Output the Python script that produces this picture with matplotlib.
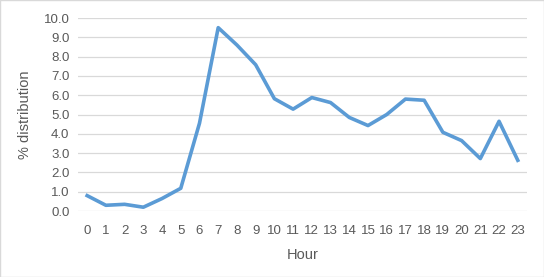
import matplotlib
matplotlib.use('Agg')
import matplotlib.pyplot as plt
import matplotlib.ticker as ticker

hours = list(range(24))
dist = [0.8, 0.3, 0.35, 0.2, 0.65, 1.18, 4.55, 9.5, 8.6, 7.58, 5.82, 5.28, 5.88, 5.62,
        4.85, 4.43, 5.0, 5.8, 5.74, 4.08, 3.65, 2.72, 4.65, 2.63]

plt.rcParams['font.family'] = ['Liberation Sans', 'DejaVu Sans']

fig = plt.figure(figsize=(5.44, 2.77), dpi=100)
ax = fig.add_axes([0.143, 0.238, 0.826, 0.697])

ax.plot(hours, dist, color='#5B9BD5', linewidth=2.6, solid_joinstyle='round', zorder=3)

ax.set_xlim(-0.5, 23.5)
ax.set_ylim(0, 10)
ax.set_xticks(hours)
ax.yaxis.set_major_locator(ticker.MultipleLocator(1))
ax.yaxis.set_major_formatter(ticker.FormatStrFormatter('%.1f'))
ax.grid(axis='y', color='#D9D9D9', linewidth=0.9)
ax.set_axisbelow(True)
for s in ax.spines.values():
    s.set_visible(False)
ax.tick_params(length=0, labelsize=9.5, colors='#595959')
ax.tick_params(axis='x', pad=10)
ax.tick_params(axis='y', pad=6)

ax.set_xlabel('Hour', fontsize=10.5, color='#595959', labelpad=8)
ax.set_ylabel('% distribution', fontsize=10.5, color='#595959', labelpad=8)

fig.patches.append(plt.Rectangle((0, 0), 1, 1, transform=fig.transFigure, fill=False,
                                 edgecolor='#D9D9D9', linewidth=1))

fig.savefig('out.png', dpi=100)
